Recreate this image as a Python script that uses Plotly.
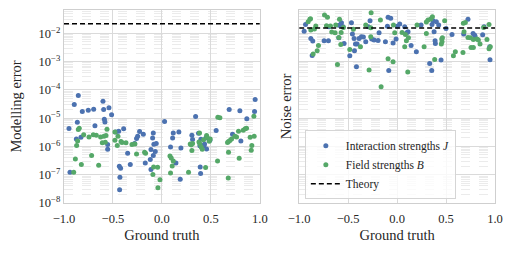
import plotly.graph_objects as go

# ---------------- data ----------------
# Left panel: modelling error
model_J_x = [-0.949, -0.939, -0.895, -0.874, -0.864, -0.854, -0.827, -0.813, -0.752, -0.697,
             -0.684, -0.602, -0.595, -0.588, -0.582, -0.541, -0.554, -0.554, -0.514, -0.473,
             -0.442, -0.435, -0.432, -0.429, -0.422, -0.391, -0.350, -0.323, -0.279, -0.259,
             -0.248, -0.228, -0.190, -0.170, -0.119, -0.112, -0.095, -0.088, -0.112, -0.082,
             -0.088, -0.068, -0.058, 0.027, 0.088, 0.109, 0.116, 0.143, 0.173, 0.187,
             0.194, 0.306, 0.313, 0.344, 0.374, 0.388, 0.391, 0.395, 0.398, 0.408,
             0.429, 0.435, 0.449, 0.456, 0.490, 0.554, 0.687, 0.721, 0.796, 0.806,
             0.867, 0.946, 0.952]
model_J_err = [4.3e-6, 1.22e-7, 3.05e-5, 1.85e-6, 7.2e-6, 6.35e-5, 2.12e-6, 1.72e-5, 1.92e-5, 2.08e-5,
               5.35e-6, 4.0e-5, 2.03e-5, 9.2e-6, 7.4e-6, 2.32e-5, 1.17e-6, 8.0e-7, 1.31e-5, 3.28e-6,
               3.47e-6, 1.99e-7, 2.97e-8, 8.1e-8, 1.69e-7, 4.2e-6, 5.75e-7, 2.28e-7, 1.26e-6, 1.9e-6,
               2.3e-6, 3.37e-6, 2.71e-6, 2.61e-7, 3.43e-7, 7.8e-7, 2.0e-6, 3.02e-6, 1.52e-7, 1.2e-6,
               4.75e-7, 6.6e-7, 1.26e-6, 7.6e-6, 9.6e-7, 2.0e-6, 3.02e-6, 2.61e-7, 3.28e-6, 6.9e-8,
               8.9e-7, 2.5e-6, 1.75e-6, 1.15e-5, 2.94e-6, 1.05e-6, 1.89e-7, 1.1e-7, 1.8e-6, 1.05e-6,
               1.05e-6, 1.23e-6, 2.0e-6, 8.2e-7, 1.66e-6, 3.66e-6, 2.03e-5, 2.71e-6, 1.82e-5, 1.57e-6,
               9.5e-6, 1.72e-5, 4.6e-5]

model_B_x = [-0.901, -0.884, -0.871, -0.861, -0.854, -0.844, -0.823, -0.799, -0.745, -0.718,
             -0.701, -0.670, -0.646, -0.626, -0.609, -0.592, -0.578, -0.571, -0.561, -0.480,
             -0.480, -0.456, -0.449, -0.418, -0.408, -0.367, -0.306, -0.276, -0.259, -0.177,
             -0.167, -0.085, -0.092, -0.044, -0.041, -0.020, 0.082, 0.088, 0.095, 0.105,
             0.116, 0.272, 0.289, 0.299, 0.306, 0.313, 0.378, 0.384, 0.388, 0.401,
             0.412, 0.425, 0.446, 0.456, 0.463, 0.483, 0.493, 0.568, 0.571, 0.592,
             0.670, 0.680, 0.680, 0.677, 0.694, 0.711, 0.745, 0.762, 0.782, 0.789,
             0.830, 0.850, 0.864, 0.901, 0.912, 0.918, 0.939, 0.942]
model_B_err = [1.22e-7, 3.62e-7, 1.08e-6, 1.57e-6, 3.97e-6, 4.43e-6, 2.28e-7, 2.57e-6, 2.18e-6, 4.75e-7,
               2.57e-6, 2.5e-6, 2.16e-7, 2.18e-6, 1.34e-6, 2.3e-6, 1.41e-6, 2.43e-6, 4.07e-6, 3.28e-6,
               1.66e-6, 1.08e-6, 2.3e-6, 1.49e-6, 1.37e-6, 1.34e-6, 1.17e-6, 1.23e-6, 5.45e-7, 6.2e-7,
               5.75e-7, 1.89e-7, 1.01e-7, 1.84e-7, 3.49e-8, 6.7e-8, 4.63e-7, 1.16e-7, 3.94e-7, 2.05e-7,
               3.08e-7, 1.22e-7, 1.23e-6, 1.14e-6, 7.2e-7, 1.26e-6, 1.45e-6, 3.02e-6, 1.23e-6, 9.6e-7,
               8.0e-7, 1.71e-6, 1.79e-7, 2.43e-6, 2.06e-6, 1.53e-6, 1.85e-6, 3.08e-7, 1.09e-5, 1.03e-5,
               1.37e-6, 1.49e-6, 6.2e-7, 7.7e-8, 1.62e-6, 1.85e-6, 2.3e-6, 2.18e-6, 3.47e-6, 3.83e-7,
               3.76e-6, 4.2e-6, 4.43e-6, 2.12e-6, 7.35e-7, 1.08e-6, 1.18e-5, 2.3e-6]

# Right panel: noise error
noise_J_x = [-0.949, -0.935, -0.881, -0.861, -0.867, -0.745, -0.701, -0.694, -0.595, -0.595,
             -0.568, -0.551, -0.541, -0.483, -0.466, -0.456, -0.435, -0.439, -0.425, -0.415,
             -0.408, -0.388, -0.364, -0.344, -0.320, -0.293, -0.276, -0.259, -0.235, -0.194,
             -0.184, -0.119, -0.099, -0.092, -0.085, -0.065, -0.041, -0.010, 0.003, 0.027,
             0.078, 0.112, 0.099, 0.143, 0.197, 0.245, 0.333, 0.354, 0.357, 0.367,
             0.378, 0.388, 0.391, 0.401, 0.425, 0.449, 0.500, 0.561, 0.724, 0.680,
             0.776, 0.796, 0.793, 0.946, 0.949, 0.888, 0.874]
noise_J_err = [1.18e-2, 2.08e-2, 6.65e-3, 5.35e-3, 1.66e-3, 5.5e-3, 5.5e-3, 1.72e-2, 7.0e-3, 1.92e-2,
               2.39e-2, 1.72e-2, 4.42e-3, 1.62e-3, 2.39e-2, 9.5e-3, 2.43e-3, 6.65e-3, 4.19e-3, 6.6e-4,
               4.19e-3, 6.65e-3, 7.6e-3, 7.4e-3, 5.07e-3, 1.72e-2, 2.81e-2, 6.3e-3, 5.8e-3, 5.65e-3,
               1.06e-2, 5.07e-3, 1.77e-2, 3.69e-2, 4.89e-4, 3.4e-2, 4.54e-3, 6.3e-3, 1.77e-2, 2.14e-2,
               1.72e-2, 1.15e-2, 1.06e-2, 3.76e-3, 2.24e-3, 1.97e-2, 8.65e-4, 4.89e-4, 2.08e-2, 2.81e-2,
               1.15e-2, 5.5e-3, 4.42e-3, 2.59e-2, 1.97e-2, 1.14e-3, 1.5e-2, 9.2e-3, 3.13e-2, 9.5e-3,
               1.0e-2, 7.6e-3, 8.5e-3, 3.37e-3, 1.17e-3, 1.72e-2, 8.97e-3]

noise_B_x = [-0.908, -0.891, -0.884, -0.881, -0.857, -0.844, -0.830, -0.816, -0.803, -0.741,
             -0.711, -0.721, -0.680, -0.667, -0.633, -0.626, -0.609, -0.588, -0.575, -0.571,
             -0.595, -0.548, -0.483, -0.446, -0.374, -0.320, -0.286, -0.265, -0.269, -0.269,
             -0.170, -0.163, -0.092, -0.041, -0.037, -0.024, 0.051, 0.085, 0.078, 0.095,
             0.109, 0.116, 0.204, 0.276, 0.299, 0.299, 0.316, 0.344, 0.361, 0.384,
             0.452, 0.456, 0.459, 0.463, 0.486, 0.575, 0.595, 0.673, 0.677, 0.697,
             0.684, 0.724, 0.748, 0.755, 0.779, 0.779, 0.816, 0.830, 0.847, 0.884,
             0.918, 0.939, 0.939, 0.952]
noise_B_err = [2.59e-2, 3.13e-2, 3.31e-2, 1.31e-2, 1.85e-3, 1.43e-2, 1.82e-2, 2.43e-3, 3.76e-3, 4.47e-2,
               3.69e-2, 1.87e-2, 1.82e-2, 1.11e-2, 1.06e-2, 1.97e-2, 7.98e-4, 3.13e-2, 4.07e-3, 1.08e-2,
               7.2e-3, 1.63e-2, 2.71e-3, 1.39e-2, 3.37e-3, 1.97e-2, 5.02e-4, 5.4e-2, 7.6e-3, 1.59e-2,
               2.96e-2, 1.29e-4, 1.27e-3, 9.9e-4, 1.97e-2, 1.06e-2, 1.08e-2, 9.2e-3, 3.37e-3, 5.5e-3,
               4.27e-4, 7.0e-3, 1.97e-2, 3.37e-3, 1.0e-2, 2.52e-2, 2.96e-2, 3.22e-2, 3.9e-2, 1.2e-3,
               4.19e-3, 6.3e-3, 5.07e-3, 7.0e-3, 2.81e-2, 1.62e-3, 2.24e-3, 2.12e-3, 2.26e-2, 2.45e-2,
               1.15e-2, 7.2e-3, 7.0e-3, 3.19e-3, 3.19e-3, 6.1e-3, 6.3e-3, 5.8e-3, 4.19e-3, 1.63e-2,
               6.1e-3, 2.08e-2, 2.86e-3, 3.37e-3]

theory_x = [-1.0, 1.0]
theory_model = 0.022
theory_noise = 0.0155

x_ticks = [-1.0, -0.5, 0.0, 0.5, 1.0]
x_tick_labels = ["\u22121.0", "\u22120.5", "0.0", "0.5", "1.0"]
y_tick_vals = [1e-8, 1e-7, 1e-6, 1e-5, 1e-4, 1e-3, 1e-2]
y_tick_labels = ["10<sup>\u22128</sup>", "10<sup>\u22127</sup>", "10<sup>\u22126</sup>",
                 "10<sup>\u22125</sup>", "10<sup>\u22124</sup>", "10<sup>\u22123</sup>",
                 "10<sup>\u22122</sup>"]

# ---------------- style ----------------
BLUE = "#4C72B0"
GREEN = "#55A868"
FONT = "Liberation Serif"
TXT = "#262626"
GRID = "#dadada"
MINOR = "#ebebeb"
SPINE = "#cfcfcf"
MS = 5

fig = go.Figure()

# left panel
fig.add_trace(go.Scatter(x=model_J_x, y=model_J_err, mode="markers", xaxis="x", yaxis="y",
                         marker=dict(color=BLUE, size=MS), showlegend=False))
fig.add_trace(go.Scatter(x=model_B_x, y=model_B_err, mode="markers", xaxis="x", yaxis="y",
                         marker=dict(color=GREEN, size=MS), showlegend=False))
fig.add_trace(go.Scatter(x=theory_x, y=[theory_model] * 2, mode="lines", xaxis="x", yaxis="y",
                         line=dict(color="black", width=1.5, dash="5px,3px"), showlegend=False))

# right panel
fig.add_trace(go.Scatter(x=noise_J_x, y=noise_J_err, mode="markers", xaxis="x2", yaxis="y2",
                         marker=dict(color=BLUE, size=MS),
                         name="Interaction strengths <i>J</i>"))
fig.add_trace(go.Scatter(x=noise_B_x, y=noise_B_err, mode="markers", xaxis="x2", yaxis="y2",
                         marker=dict(color=GREEN, size=MS),
                         name="Field strengths <i>B</i>"))
fig.add_trace(go.Scatter(x=theory_x, y=[theory_noise] * 2, mode="lines", xaxis="x2", yaxis="y2",
                         line=dict(color="black", width=1.5, dash="5px,3px"),
                         name="Theory"))

xcommon = dict(range=[-1, 1], tickvals=x_ticks, ticktext=x_tick_labels,
               showgrid=True, gridcolor=GRID, gridwidth=1, zeroline=False,
               showline=True, linecolor=SPINE, linewidth=1.2, mirror=True,
               ticks="outside", ticklen=4, tickcolor="rgba(0,0,0,0)",
               tickfont=dict(size=12.5, color=TXT, family=FONT),
               title=dict(text="Ground truth", font=dict(size=14.5, color=TXT, family=FONT), standoff=4))
ycommon = dict(type="log", range=[-8, -1.173], tickvals=y_tick_vals, ticktext=y_tick_labels,
               showgrid=True, gridcolor=GRID, gridwidth=1, zeroline=False,
               showline=True, linecolor=SPINE, linewidth=1.2, mirror=True,
               ticks="", tickfont=dict(size=12.5, color=TXT, family=FONT),
               minor=dict(dtick="D1", showgrid=True, gridcolor=MINOR, griddash="dash", gridwidth=0.8))

fig.update_layout(
    width=513, height=253,
    margin=dict(l=64, r=18, t=10, b=50),
    paper_bgcolor="white", plot_bgcolor="white",
    font=dict(family=FONT, color=TXT),
    xaxis=dict(domain=[0, 0.4544], anchor="y", **xcommon),
    xaxis2=dict(domain=[0.5456, 1], anchor="y2", **xcommon),
    yaxis=dict(domain=[0, 1], anchor="x",
               title=dict(text="Modelling error", font=dict(size=14.5, color=TXT, family=FONT), standoff=13),
               **ycommon),
    yaxis2=dict(domain=[0, 1], anchor="x2", matches="y", showticklabels=False,
                title=dict(text="Noise error", font=dict(size=14.5, color=TXT, family=FONT), standoff=2),
                **ycommon),
    legend=dict(x=0.5588, y=0.02, xanchor="left", yanchor="bottom",
                bgcolor="rgba(255,255,255,0.8)", bordercolor="#d5d5d5", borderwidth=1,
                font=dict(size=11.5, color=TXT, family=FONT), itemwidth=30,
                tracegroupgap=0),
    showlegend=True,
)

fig.write_html("out.html", config={"displayModeBar": False})

# remove the default page margin so the chart sits at the window origin
with open("out.html", encoding="utf-8") as f:
    page = f.read()
page = page.replace("<head>", "<head><style>html,body{margin:0;padding:0;overflow:hidden;}</style>", 1)
with open("out.html", "w", encoding="utf-8") as f:
    f.write(page)
